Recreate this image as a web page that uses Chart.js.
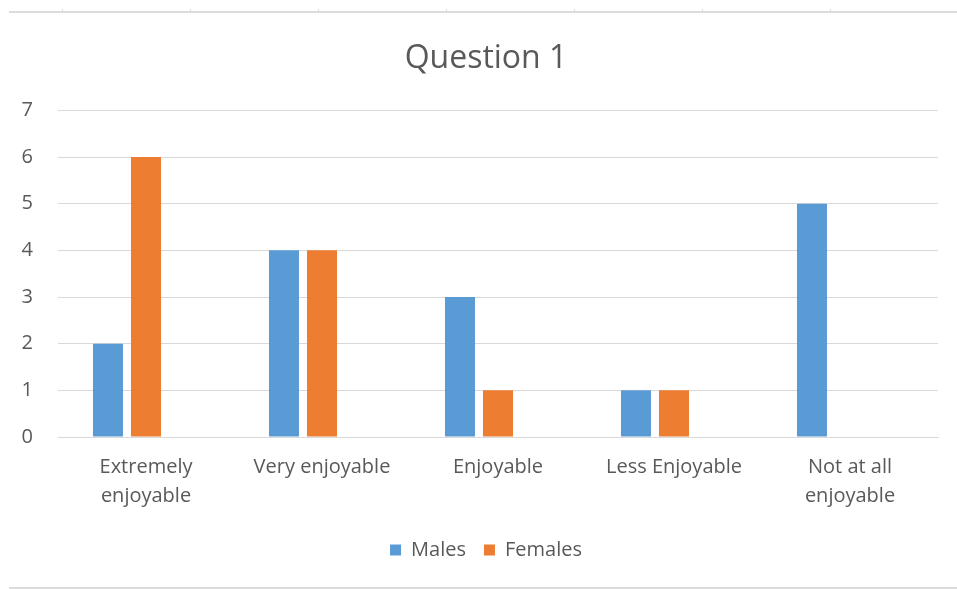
<!DOCTYPE html>
<html>
<head>
<meta charset="utf-8">
<title>Question 1</title>
<script src="https://cdn.jsdelivr.net/npm/chart.js"></script>
<style>
  html, body { margin: 0; padding: 0; background: #fff; }
  .wrap { position: relative; width: 957px; height: 589px; overflow: hidden; }
  .rule { position: absolute; left: 9px; right: 0; height: 2px; background: #dcdcdc; }
  .tick { position: absolute; top: 9px; width: 1px; height: 3px; background: #dcdcdc; }
  canvas { position: absolute; left: 0; top: 0; }
</style>
</head>
<body>
<div class="wrap">
  <div class="rule" style="top:11px"></div>
  <div class="rule" style="top:587px"></div>
  <div class="tick" style="left:62px"></div>
  <div class="tick" style="left:190px"></div>
  <div class="tick" style="left:318px"></div>
  <div class="tick" style="left:446px"></div>
  <div class="tick" style="left:574px"></div>
  <div class="tick" style="left:702px"></div>
  <div class="tick" style="left:830px"></div>
  <canvas id="chart" width="957" height="589"></canvas>
</div>
<script>
const categories = [['Extremely', 'enjoyable'], 'Very enjoyable', 'Enjoyable', 'Less Enjoyable', ['Not at all', 'enjoyable']];
const males = [2, 4, 3, 1, 5];
const females = [6, 4, 1, 1, 0];
// empty third series in the source workbook, keeps the bars shifted left
const blank = [null, null, null, null, null];
const yTicks = [0, 1, 2, 3, 4, 5, 6, 7];

const txt = '#595959';
const font = "'Open Sans', Lato, sans-serif";

new Chart(document.getElementById('chart'), {
  type: 'bar',
  data: {
    labels: categories,
    datasets: [
      { label: 'Males', data: males, backgroundColor: '#5b9bd5' },
      { label: 'Females', data: females, backgroundColor: '#ed7d31' },
      { label: '', data: blank, backgroundColor: '#a5a5a5' }
    ]
  },
  options: {
    responsive: false,
    animation: false,
    categoryPercentage: 0.648,
    barPercentage: 0.79,
    layout: { padding: { left: 15, right: 0, top: 20, bottom: 19 } },
    plugins: {
      title: {
        display: true, text: 'Question 1', color: txt,
        font: { family: font, size: 32, weight: 'normal' },
        padding: { top: 20, bottom: 32 }
      },
      legend: {
        position: 'bottom',
        labels: {
          color: txt, font: { family: font, size: 20 },
          boxWidth: 11, boxHeight: 11, padding: 18,
          filter: item => item.text !== ''
        }
      },
      tooltip: { enabled: false }
    },
    scales: {
      x: {
        grid: { display: false },
        border: { color: '#d9d9d9' },
        ticks: { color: txt, font: { family: font, size: 20, lineHeight: 1.45 }, padding: 8, maxRotation: 0 },
        afterFit: axis => { axis.height += 3; }
      },
      y: {
        min: yTicks[0], max: yTicks[yTicks.length - 1],
        afterBuildTicks: axis => { axis.ticks = yTicks.map(v => ({ value: v })); },
        afterFit: axis => { axis.width = 43; },
        grid: { color: '#d9d9d9', drawTicks: false },
        border: { display: false },
        ticks: { color: txt, font: { family: font, size: 20 }, padding: 25 }
      },
      // keeps the right margin so the title sits where it does in the original
      gap: {
        position: 'right', display: true,
        grid: { display: false }, border: { display: false }, ticks: { display: false },
        afterFit: axis => { axis.width = 19; }
      }
    }
  }
});
</script>
</body>
</html>
